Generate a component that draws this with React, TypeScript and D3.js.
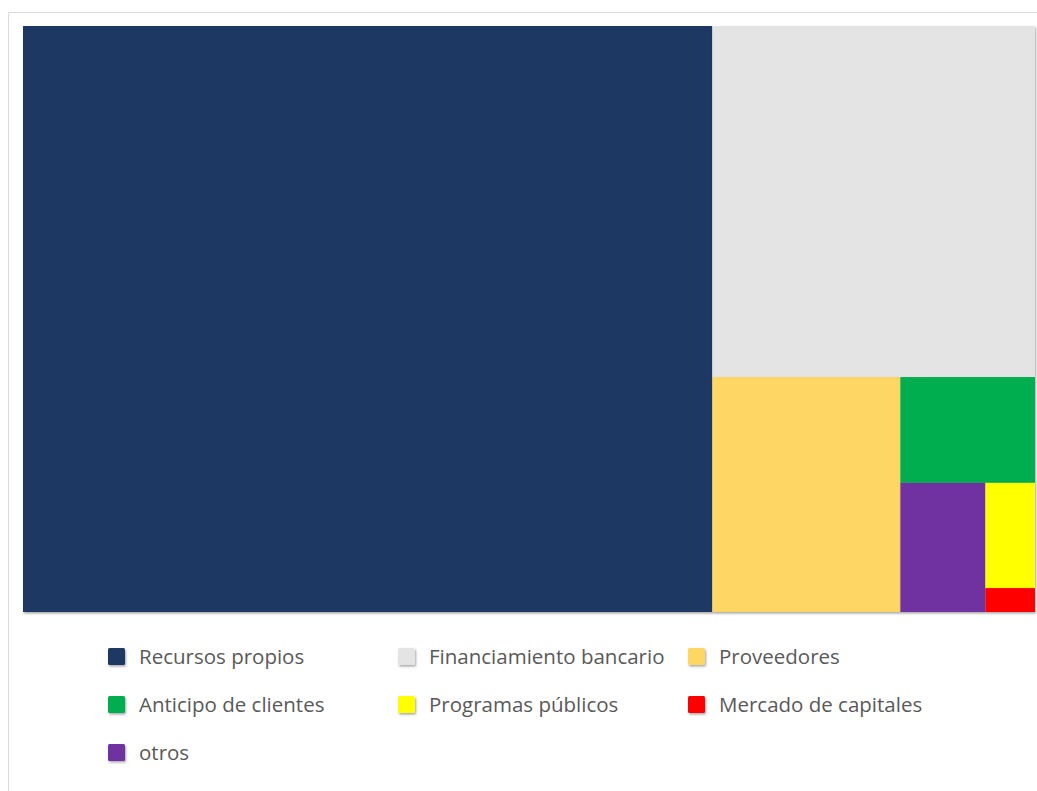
import React, { useEffect, useRef } from 'react';
import * as d3 from 'd3';

// shares of financing sources (%)
const categories = [
  'Recursos propios',
  'Financiamiento bancario',
  'Proveedores',
  'Anticipo de clientes',
  'otros',
  'Programas públicos',
  'Mercado de capitales',
];
const values = [68.1, 19.1, 7.45, 2.4, 1.85, 0.88, 0.2];
const colors = ['#1f3763', '#e4e4e4', '#fdd663', '#00ad4f', '#7030a0', '#ffff00', '#ff0000'];

// legend follows a different order than the treemap
const legendOrder = [
  'Recursos propios',
  'Financiamiento bancario',
  'Proveedores',
  'Anticipo de clientes',
  'Programas públicos',
  'Mercado de capitales',
  'otros',
];

const width = 1037;
const height = 791;

type Leaf = { name: string; value: number };

export default function App() {
  const svgRef = useRef<SVGSVGElement>(null);

  useEffect(() => {
    if (!svgRef.current) return;
    const svg = d3.select(svgRef.current);
    svg.selectAll('*').remove();

    const color = d3.scaleOrdinal<string, string>().domain(categories).range(colors);

    const defs = svg.append('defs');
    const f = defs
      .append('filter')
      .attr('id', 'shadow')
      .attr('x', '-20%')
      .attr('y', '-20%')
      .attr('width', '140%')
      .attr('height', '140%');
    f.append('feDropShadow')
      .attr('dx', 1)
      .attr('dy', 1.5)
      .attr('stdDeviation', 1.2)
      .attr('flood-color', '#000')
      .attr('flood-opacity', 0.35);

    // outer frame
    svg
      .append('rect')
      .attr('x', 8.5)
      .attr('y', 12.5)
      .attr('width', 1040)
      .attr('height', 800)
      .attr('fill', '#fff')
      .attr('stroke', '#dcdcdc');

    const box = { left: 23, top: 26, right: 1035, bottom: 612 };

    const root = d3
      .hierarchy<{ children?: Leaf[] } & Partial<Leaf>>({
        children: categories.map((name, i) => ({ name, value: values[i] })),
      })
      .sum((d) => (d as Leaf).value || 0)
      .sort((a, b) => (b.value || 0) - (a.value || 0));

    d3
      .treemap<any>()
      .tile(d3.treemapSquarify.ratio(1))
      .size([box.right - box.left, box.bottom - box.top])
      .paddingInner(0)(root);

    const g = svg.append('g').attr('transform', `translate(${box.left},${box.top})`);
    g.selectAll('rect')
      .data(root.leaves() as d3.HierarchyRectangularNode<any>[])
      .join('rect')
      .attr('x', (d) => d.x0)
      .attr('y', (d) => d.y0)
      .attr('width', (d) => d.x1 - d.x0)
      .attr('height', (d) => d.y1 - d.y0)
      .attr('fill', (d) => color(d.data.name))
      .attr('filter', 'url(#shadow)');

    // legend
    const colX = d3.scalePoint<number>().domain([0, 1, 2]).range([108, 688]);
    const rowY = d3.scalePoint<number>().domain([0, 1, 2]).range([657, 753]);

    const items = svg
      .append('g')
      .selectAll('g')
      .data(legendOrder)
      .join('g')
      .attr('transform', (_, i) => `translate(${colX(i % 3)},${rowY(Math.floor(i / 3))})`);

    items
      .append('rect')
      .attr('x', 0)
      .attr('y', -9)
      .attr('width', 17)
      .attr('height', 17)
      .attr('rx', 1.5)
      .attr('fill', (d) => color(d))
      .attr('filter', 'url(#shadow)');

    items
      .append('text')
      .attr('x', 31)
      .attr('y', 0)
      .attr('dy', '0.35em')
      .attr('font-family', '"Open Sans", sans-serif')
      .attr('font-size', 20.5)
      .attr('fill', '#595959')
      .text((d) => d);
  }, []);

  return (
    <svg
      ref={svgRef}
      width={width}
      height={height}
      style={{ position: 'absolute', left: 0, top: 0, background: '#fff' }}
    />
  );
}
